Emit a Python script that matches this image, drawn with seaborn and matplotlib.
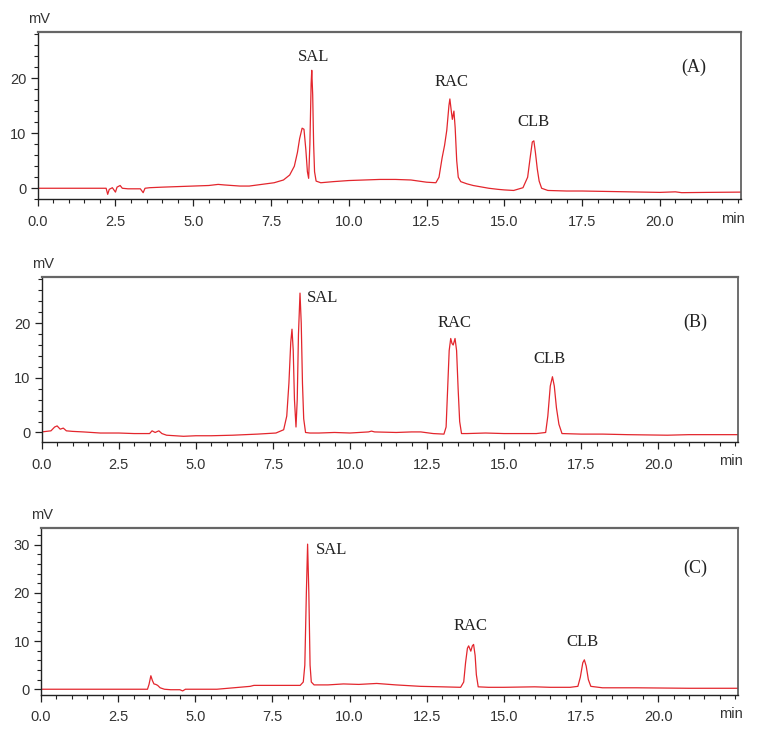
import matplotlib
matplotlib.use("Agg")
import matplotlib.pyplot as plt
import seaborn as sns
import pandas as pd
from matplotlib.ticker import MultipleLocator

# ---------------- data ----------------
t_a = [0.0, 2.2, 2.25, 2.3, 2.4, 2.5, 2.55, 2.65, 2.72, 2.9, 3.3, 3.39, 3.45, 3.6, 4.0, 4.5, 5.0,
       5.5, 5.8, 6.0, 6.5, 6.8, 7.2, 7.6, 7.9, 8.1, 8.25, 8.35, 8.42, 8.5, 8.56, 8.62, 8.67, 8.71,
       8.75, 8.79, 8.81, 8.84, 8.87, 8.9, 8.95, 9.1, 9.5, 10.0, 10.5, 11.0, 11.5, 12.0, 12.5, 12.8,
       12.9, 13.0, 13.08, 13.15, 13.22, 13.25, 13.3, 13.33, 13.38, 13.42, 13.47, 13.52, 13.6, 13.8,
       14.0, 14.1, 14.3, 14.5, 14.8, 15.0, 15.3, 15.6, 15.75, 15.83, 15.9, 15.95, 16.0, 16.06,
       16.12, 16.2, 16.4, 17.0, 17.5, 18.0, 18.5, 19.0, 20.0, 20.5, 20.7, 21.5, 22.6]
mv_a = [0.0, 0.0, -1.1, -0.2, 0.1, -0.7, 0.2, 0.5, 0.0, -0.1, -0.1, -0.8, 0.0, 0.1, 0.2, 0.3, 0.4,
        0.5, 0.7, 0.6, 0.4, 0.4, 0.7, 1.0, 1.5, 2.4, 4.0, 6.5, 9.0, 10.9, 10.7, 7.0, 3.0, 1.8,
        8.0, 19.0, 21.4, 17.0, 8.0, 3.0, 1.3, 1.0, 1.2, 1.4, 1.5, 1.6, 1.6, 1.5, 1.1, 1.0,
        2.0, 5.5, 7.8, 10.5, 15.0, 16.2, 13.8, 12.5, 14.0, 11.0, 5.0, 2.0, 1.2, 0.8,
        0.5, 0.4, 0.2, 0.0, -0.2, -0.3, -0.4, 0.1, 2.0, 5.5, 8.4, 8.6, 6.5, 3.5,
        1.3, 0.0, -0.4, -0.5, -0.5, -0.55, -0.6, -0.65, -0.75, -0.65, -0.8, -0.75, -0.7]

t_b = [0.0, 0.3, 0.42, 0.5, 0.6, 0.7, 0.8, 1.0, 1.35, 1.9, 2.5, 3.0, 3.5, 3.58, 3.68, 3.8, 3.9,
       4.05, 4.6, 5.0, 5.5, 6.2, 7.0, 7.6, 7.85, 7.95, 8.02, 8.08, 8.12, 8.16, 8.2, 8.25, 8.29,
       8.33, 8.38, 8.42, 8.46, 8.5, 8.56, 8.7, 9.0, 9.5, 10.0, 10.6, 10.7, 10.8, 11.5, 12.0,
       12.3, 12.7, 13.05, 13.12, 13.17, 13.22, 13.27, 13.31, 13.35, 13.41, 13.46, 13.51, 13.56,
       13.62, 13.8, 14.4, 15.0, 15.5, 16.05, 16.35, 16.42, 16.5, 16.57, 16.63, 16.7, 16.78,
       16.88, 17.5, 18.2, 19.0, 20.3, 21.0, 22.6]
mv_b = [0.1, 0.3, 1.0, 1.2, 0.6, 0.8, 0.3, 0.2, 0.1, -0.1, -0.1, -0.2, -0.2, 0.3, 0.0, 0.3, -0.2,
        -0.5, -0.7, -0.6, -0.6, -0.5, -0.3, -0.1, 0.5, 3.0, 9.0, 16.5, 18.9, 15.0, 6.0, 1.0, 6.0,
        18.0, 25.5, 20.0, 9.0, 2.5, 0.0, -0.1, -0.1, 0.0, -0.1, 0.1, 0.25, 0.1, 0.0, 0.1,
        0.1, -0.2, -0.3, 1.0, 8.0, 15.0, 17.2, 16.3, 16.0, 17.2, 15.0, 8.0, 2.0,
        -0.2, -0.2, -0.1, -0.2, -0.2, -0.2, 0.0, 3.0, 8.5, 10.2, 8.5, 4.5, 1.5,
        -0.2, -0.3, -0.3, -0.4, -0.5, -0.4, -0.4]

t_c = [0.0, 3.45, 3.5, 3.56, 3.61, 3.66, 3.72, 3.78, 3.86, 4.0, 4.2, 4.5, 4.59, 4.68, 5.0, 5.7,
       6.24, 6.78, 6.9, 7.5, 8.4, 8.5, 8.55, 8.6, 8.64, 8.68, 8.72, 8.76, 8.85, 9.3, 9.8, 10.3,
       10.88, 11.5, 12.3, 13.0, 13.6, 13.7, 13.76, 13.82, 13.86, 13.93, 13.98, 14.02, 14.07,
       14.11, 14.17, 14.5, 15.0, 16.0, 16.5, 17.15, 17.4, 17.48, 17.56, 17.61, 17.67, 17.74,
       17.82, 18.2, 19.3, 21.0, 22.6]
mv_c = [0.0, 0.0, 1.0, 2.8, 1.8, 1.1, 1.0, 0.8, 0.3, 0.0, -0.1, -0.1, -0.35, 0.0, 0.0, 0.0,
        0.3, 0.6, 0.8, 0.8, 0.8, 1.5, 5.0, 20.0, 30.1, 20.0, 5.0, 1.5, 0.9, 0.9, 1.1, 1.0,
        1.2, 0.9, 0.6, 0.5, 0.4, 1.5, 5.5, 8.5, 9.0, 7.9, 9.0, 9.3, 7.0,
        3.0, 0.5, 0.4, 0.4, 0.5, 0.4, 0.4, 0.6, 2.5, 5.5, 6.1, 4.8, 2.0,
        0.6, 0.3, 0.3, 0.2, 0.2]

panel_names = ["(A)", "(B)", "(C)"]
peak_names = ["SAL", "RAC", "CLB"]
# label anchor positions (time, mV) for each panel's peak labels
label_t = [[8.86, 13.3, 15.95], [9.1, 13.38, 16.48], [9.4, 13.91, 17.55]]
label_mv = [[23.8, 19.2, 12.0], [24.6, 20.1, 13.4], [28.9, 13.2, 9.7]]
panel_label_pos = [(21.1, 22.0), (21.2, 20.1), (21.2, 25.1)]
ylims = [(-2.0, 28.4), (-1.8, 28.5), (-1.2, 33.5)]
yticks = [[0, 10, 20], [0, 10, 20], [0, 10, 20, 30]]
xticks = [0.0, 2.5, 5.0, 7.5, 10.0, 12.5, 15.0, 17.5, 20.0]

# ---------------- style ----------------
sns.set_style("ticks")
plt.rcParams["font.family"] = ["Liberation Sans", "DejaVu Sans"]

fig = plt.figure(figsize=(7.57, 7.34), dpi=100)
rects = [
    [0.0498, 0.7285, 0.9287, 0.2283],
    [0.0551, 0.3974, 0.9202, 0.2256],
    [0.0542, 0.0531, 0.9211, 0.2279],
]
traces = [(t_a, mv_a), (t_b, mv_b), (t_c, mv_c)]
line_color = "#e3262d"
txt_color = "#222222"

for i, (rect, (tt, mv)) in enumerate(zip(rects, traces)):
    ax = fig.add_axes(rect)
    df = pd.DataFrame({"t": tt, "mV": mv})
    sns.lineplot(data=df, x="t", y="mV", ax=ax, color=line_color, linewidth=0.9,
                 sort=False, estimator=None)
    ax.set_xlim(0, 22.6)
    ax.set_ylim(*ylims[i])
    ax.set_xlabel("")
    ax.set_ylabel("")
    ax.set_xticks(xticks)
    ax.set_xticklabels([f"{v:.1f}" for v in xticks])
    ax.xaxis.set_minor_locator(MultipleLocator(0.5))
    ax.set_yticks(yticks[i])
    ax.yaxis.set_minor_locator(MultipleLocator(2))
    ax.tick_params(axis="both", which="major", length=5, width=0.9, color="#222222",
                   labelsize=10.5, labelcolor="#333333", direction="out")
    ax.tick_params(axis="x", which="major", pad=6)
    ax.tick_params(axis="y", which="major", pad=3)
    ax.tick_params(axis="both", which="minor", length=3, width=0.8, color="#222222",
                   direction="out")
    for side in ["left", "bottom"]:
        ax.spines[side].set_color("#222222")
        ax.spines[side].set_linewidth(1.0)
    ax.spines["top"].set_color("#666666")
    ax.spines["top"].set_linewidth(1.6)
    ax.spines["right"].set_color("#555555")
    ax.spines["right"].set_linewidth(1.2)
    ax.spines["top"].set_visible(True)
    ax.spines["right"].set_visible(True)

    # axis unit labels
    ax.text(-0.014, 1.075, "mV", transform=ax.transAxes, ha="left", va="center",
            fontsize=10.5, color="#333333")
    ax.text(1.006, -0.115, "min", transform=ax.transAxes, ha="right", va="center",
            fontsize=10.5, color="#333333")

    # peak labels
    for j, name in enumerate(peak_names):
        ha = "center"
        if i > 0 and j == 0:
            ha = "left"
        tx = label_t[i][j]
        if i == 1 and j == 0:
            tx = 8.61
        if i == 2 and j == 0:
            tx = 8.92
        ax.text(tx, label_mv[i][j], name, ha=ha, va="center", fontsize=12,
                family=["Liberation Serif", "DejaVu Serif"], color=txt_color)
    px, py = panel_label_pos[i]
    ax.text(px, py, panel_names[i], ha="center", va="center", fontsize=13,
            family=["Liberation Serif", "DejaVu Serif"], color=txt_color)

fig.savefig("out.png", dpi=100)
